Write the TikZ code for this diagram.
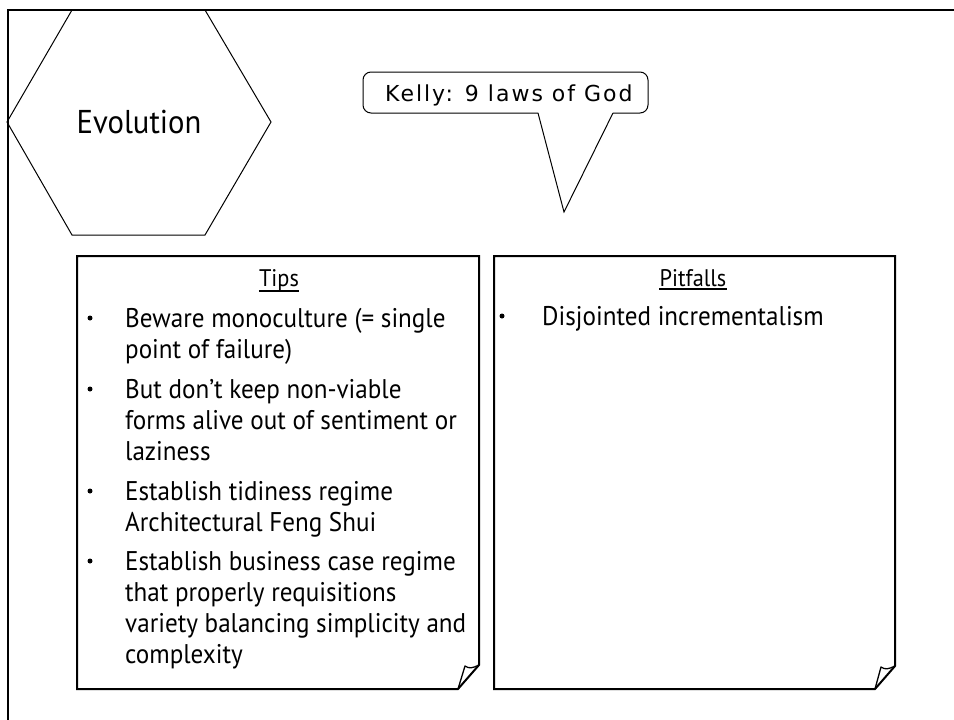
\documentclass[tikz,border=0pt]{standalone}
\usepackage{fontspec}
\setmainfont{PT Sans}[FakeStretch=0.93]
\newfontfamily\calloutfont{DejaVu Sans}[LetterSpace=9]
\begin{document}
\begin{tikzpicture}[x=1pt,y=-1pt,
  frameline/.style={line width=2.5pt},
  panel/.style={draw, line width=2pt, line join=miter},
  outline/.style={draw, line width=1pt, line join=miter},
  headtext/.style={inner sep=0pt, anchor=base, font=\fontsize{24}{28}\selectfont},
  bodytext/.style={inner sep=0pt, anchor=base west, font=\fontsize{27}{31}\selectfont},
  bulletdot/.style={fill, circle, inner sep=0pt, minimum size=5pt},
  headline/.style={line width=1.2pt}]
\fill[white] (0,0) rectangle (954,720);
\useasboundingbox (0,0) rectangle (954,720);

% page frame (top and left edges)
\draw[frameline] (954,10) -- (8,10) -- (8,720);

% hexagon title
\draw[outline] (72,10) -- (205,10) -- (271,122) -- (205,235) -- (72,235) -- (7,122) -- cycle;
\node[inner sep=0pt, font=\fontsize{33}{38}\selectfont] (evo) at (139,122) {Evolution};

% speech callout
\draw[outline, rounded corners=8pt] (538,113) -- (363,113) -- (363,72) -- (648,72) -- (648,113) -- (613,113);
\draw[outline] (613,113) -- (564,212) -- (538,113);
\node[inner sep=0pt, anchor=base west, font=\calloutfont\fontsize{22}{26}\selectfont] (kelly) at (385,101) {Kelly: 9 laws of God};

% Tips panel with curled corner
\draw[panel] (77,256) -- (479,256) -- (479,665) -- (458,689) -- (77,689) -- cycle;
\draw[line width=1.3pt, line join=round] (458,689) -- (465,666) .. controls (469,669) and (473,668) .. (479,665);

% Pitfalls panel with curled corner
\draw[panel] (494,256) -- (895,256) -- (895,666) -- (875,689) -- (494,689) -- cycle;
\draw[line width=1.3pt, line join=round] (875,689) -- (881,667) .. controls (885,670) and (889,669) .. (895,666);

% Tips contents
\node[headtext] (tipshead) at (279,286) {Tips};
\draw[headline] ([yshift=-5pt]tipshead.base west) -- ([yshift=-5pt]tipshead.base east);

\node[bulletdot] (b1) at (90,318) {};
\node[bodytext] (t1) at (125,327) {\parbox[t]{420pt}{\raggedright Beware monoculture (= single\\point of failure)}};
\node[bulletdot] (b2) at (90,389) {};
\node[bodytext] (t2) at (125,398) {\parbox[t]{420pt}{\raggedright But don’t keep non-viable\\forms alive out of sentiment or\\laziness}};
\node[bulletdot] (b3) at (90,491) {};
\node[bodytext] (t3) at (125,500) {\parbox[t]{420pt}{\raggedright Establish tidiness regime\\Architectural Feng Shui}};
\node[bulletdot] (b4) at (90,561) {};
\node[bodytext] (t4) at (125,570) {\parbox[t]{420pt}{\raggedright Establish business case regime\\that properly requisitions\\variety balancing simplicity and\\complexity}};

% Pitfalls contents
\node[headtext] (pithead) at (693,286) {Pitfalls};
\draw[headline] ([yshift=-3pt]pithead.base west) -- ([yshift=-3pt]pithead.base east);

\node[bulletdot] (p1b) at (502,316) {};
\node[bodytext] (p1) at (542,325) {Disjointed incrementalism};
\end{tikzpicture}
\end{document}
